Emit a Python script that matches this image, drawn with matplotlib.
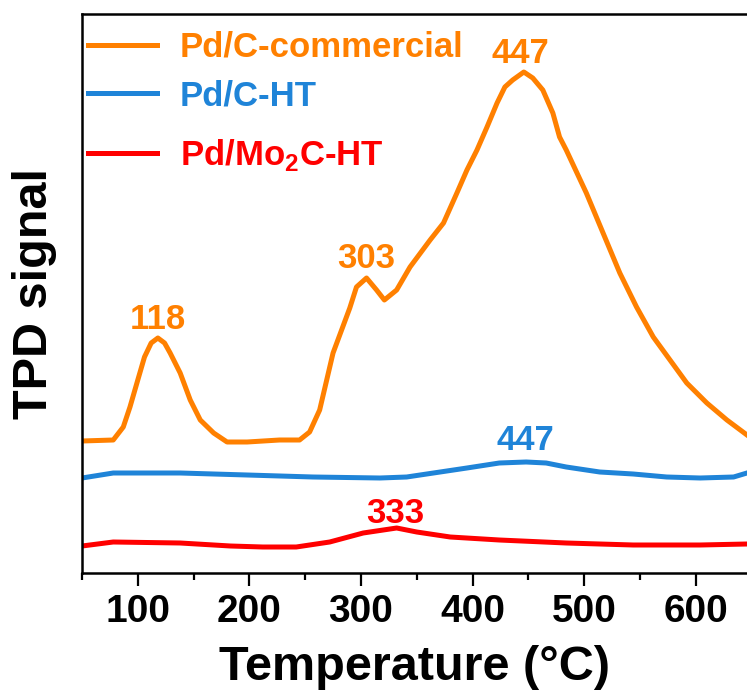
import matplotlib
matplotlib.use("Agg")
import matplotlib.pyplot as plt
from matplotlib.ticker import MultipleLocator

plt.rcParams['font.family'] = ['Liberation Sans', 'DejaVu Sans']
plt.rcParams['font.weight'] = 'bold'
plt.rcParams['axes.labelweight'] = 'bold'
plt.rcParams['mathtext.fontset'] = 'custom'
plt.rcParams['mathtext.bf'] = 'Liberation Sans:bold'
plt.rcParams['mathtext.rm'] = 'Liberation Sans:bold'

# values (signal in arbitrary units)
temp_comm = [50, 78, 87, 93, 100, 106, 112, 118, 124, 129, 138, 147, 156, 168, 180, 198, 227, 245,
             254, 263, 275, 290, 296, 305, 314, 321, 332, 344, 362, 374, 386, 395, 404, 413,
             422, 429, 436, 446, 454, 463, 472, 478, 484, 502, 517, 532, 547, 562, 577,
             592, 610, 628, 646]
sig_comm = [132, 133, 146, 166, 193, 216, 230, 235, 230, 220, 200, 173, 153, 140, 131, 131, 133, 133,
            141, 163, 220, 265, 286, 295, 283, 273, 283, 306, 333, 350, 380, 403, 423, 446,
            470, 486, 493, 501, 495, 483, 460, 436, 423, 380, 340, 300, 266, 236, 213,
            190, 170, 153, 138]

temp_ht = [50, 78, 138, 198, 257, 317, 341, 365, 395, 424, 448, 466, 484, 514, 544, 574,
           604, 634, 646]
sig_ht = [95, 100, 100, 98, 96, 95, 96, 100, 105, 110, 111, 110, 106, 101, 99, 96,
          95, 96, 100]

temp_mo = [50, 78, 138, 183, 212, 242, 272, 302, 332, 350, 380, 424, 484, 544, 604, 646]
sig_mo = [27, 31, 30, 27, 26, 26, 31, 40, 45, 41, 36, 33, 30, 28, 28, 29]

labels = ['Pd/C-commercial', 'Pd/C-HT', r'Pd/Mo$_\mathbf{2}$C-HT']
colors = ['#FF8000', '#1F84D8', '#FF0000']

# peak labels: (text, temperature, signal height of baseline, colour)
peak_text = ['118', '303', '447', '447', '333']
peak_x = [118, 305, 443, 447, 331]
peak_y = [244, 305, 510, 123, 50]
peak_col = [colors[0], colors[0], colors[0], colors[1], colors[2]]

fig = plt.figure(figsize=(7.47, 6.91), dpi=100)
ax = fig.add_axes([82 / 747, 118 / 691, 665 / 747, 559 / 691])

l1, = ax.plot(temp_comm, sig_comm, color=colors[0], lw=3.6, label=labels[0])
l2, = ax.plot(temp_ht, sig_ht, color=colors[1], lw=3.6, label=labels[1])
l3, = ax.plot(temp_mo, sig_mo, color=colors[2], lw=3.6, label=labels[2])

for t, x, y, c in zip(peak_text, peak_x, peak_y, peak_col):
    ax.text(x, y, t, color=c, fontsize=25, ha='center', va='baseline')

ax.set_xlim(50, 646)
ax.set_ylim(0, 559)
ax.xaxis.set_major_locator(MultipleLocator(100))
ax.xaxis.set_minor_locator(MultipleLocator(50))
ax.set_yticks([])
ax.tick_params(axis='x', which='major', length=9, width=1.6, labelsize=28, pad=6)
ax.tick_params(axis='x', which='minor', length=5, width=1.6)
for s in ['left', 'bottom', 'top']:
    ax.spines[s].set_visible(True)
    ax.spines[s].set_color('black')
    ax.spines[s].set_linewidth(1.8)
ax.spines['right'].set_visible(False)

ax.set_xlabel('Temperature (°C)', fontsize=35, labelpad=11)
ax.set_ylabel('TPD signal', fontsize=35, labelpad=18)

leg_kw = dict(loc='upper left', frameon=False, fontsize=25, handlelength=2.0,
              handletextpad=0.65, labelspacing=0.45, borderpad=0, borderaxespad=0,
              labelcolor='linecolor')
leg1 = ax.legend(handles=[l1, l2], bbox_to_anchor=(0.009, 0.97), **leg_kw)
ax.add_artist(leg1)
ax.legend(handles=[l3], bbox_to_anchor=(0.009, 0.78), **leg_kw)

fig.savefig('out.png', dpi=100)
